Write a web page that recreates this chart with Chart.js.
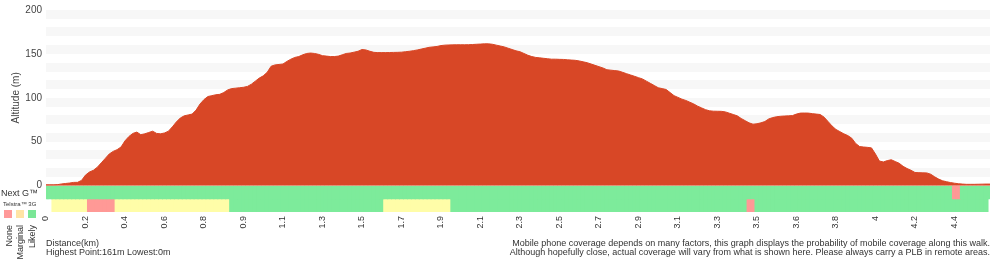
<!DOCTYPE html>
<html>
<head>
<meta charset="utf-8">
<script src="https://cdn.jsdelivr.net/npm/chart.js@4.4.1/dist/chart.umd.min.js"></script>
<style>
body { margin: 0; background: #fff; font-family: "Liberation Sans", Arial, sans-serif; color: #333; }
#wrap { position: relative; width: 1000px; height: 260px; overflow: hidden; }
#wrap canvas { position: absolute; left: 0; top: 0; }
.txt { position: absolute; font-size: 9px; line-height: 9px; white-space: nowrap; }
.sq { position: absolute; width: 8px; height: 8px; top: 210px; }
.vlab { position: absolute; top: 225px; font-size: 9px; line-height: 9px; writing-mode: vertical-rl; transform: rotate(180deg); white-space: nowrap; }
</style>
</head>
<body>
<div id="wrap">
  <canvas id="profile" width="1000" height="260"></canvas>
  <div class="txt" style="left:1px; top:189px;">Next G™</div>
  <div class="txt" style="left:3px; top:201px; font-size:6px; line-height:6px;">Telstra™ 3G</div>
  <div class="sq" style="left:4px; background:rgb(255,153,153);"></div>
  <div class="sq" style="left:16px; background:rgb(255,228,165);"></div>
  <div class="sq" style="left:28px; background:rgb(122,230,150);"></div>
  <div class="vlab" style="left:5px;">None</div>
  <div class="vlab" style="left:16px;">Marginal</div>
  <div class="vlab" style="left:28px;">Likely</div>
  <div class="txt" style="left:46px; top:239px;">Distance(km)</div>
  <div class="txt" style="left:46px; top:248px;">Highest Point:161m Lowest:0m</div>
  <div class="txt" style="right:10px; top:239px; text-align:right;">Mobile phone coverage depends on many factors, this graph displays the probability of mobile coverage along this walk.</div>
  <div class="txt" style="right:10px; top:248px; text-align:right;">Although hopefully close, actual coverage will vary from what is shown here. Please always carry a PLB in remote areas.</div>
</div>
<script>
// distance labels, one every 10 samples
var tickLabels = ['0','0.2','0.4','0.6','0.8','0.9','1.1','1.3','1.5','1.7','1.9','2.1','2.3','2.5','2.7','2.9','3.1','3.3','3.5','3.6','3.8','4','4.2','4.4'];
var pointsPerTick = 10;

// altitude in metres, one value per sample
var altitude = [
  1,1,1,1.2,2,2.5,3,3.7,3.8,6,
  12,15.5,17.5,21,26,31,36,39,41,44,
  51,56,59.5,61,58,59,60.5,62,59.5,59,
  60,62,67,72.5,77,79.5,80.5,81.5,86,93,
  98,101.5,102.5,103.5,104,106,109,110.5,111,111.5,
  112,113,115.5,119,122.5,125,129,136,137.5,138,
  138.5,141.5,144,146,147,149,150.5,151,150.5,149.5,
  148,147.5,147,147,147.5,149,150.5,151,152,153,
  155,154.5,153,151.8,151.5,151.5,151.5,151.6,151.7,151.8,
  152,152.5,153,153.7,154.5,155.5,156.5,157.5,158,158.5,
  159.5,160,160.2,160.3,160.4,160.4,160.4,160.5,160.7,161,
  161.2,161.5,161.5,161,160,159,158,156.5,155,153.5,
  152.5,150.5,148.5,147,146,145.5,145,144.5,144,144,
  143.8,143.7,143.3,143,142.7,142,141,140,138.5,137,
  135.5,134,132,131.5,131,130.5,129,127.5,126,124.5,
  123,121.5,119,116.5,114,111.5,110.5,109.5,106,102.5,
  100.5,98.5,97,95,93,90.5,88.5,86.5,85.2,84.8,
  84.7,84.6,84,82.5,81,79.5,76.5,74,71.5,70,
  70.5,71.5,73,76,77.5,78.5,79,79.3,79.5,79.8,
  81.5,82.6,82.7,82.6,82,81.5,81,78,73,68,
  64,61.5,59,57,54,48,44.5,44,43.6,43,
  36,28,27,28.5,29.5,27.5,25.5,22,19.5,17.5,
  15,14.8,14.6,14.5,13,10,7.5,5.5,4.5,3.5,
  2.8,2.2,1.8,1.5,1.5,1.5,1.6,1.7,1.8,1.8
];

// coverage runs: [first sample, last sample, level]
var nextGRuns = [[0,229,'likely'],[230,231,'none'],[232,239,'likely']];
var telstra3GRuns = [[2,10,'marginal'],[11,17,'none'],[18,46,'marginal'],[47,85,'likely'],[86,102,'marginal'],[103,177,'likely'],[178,179,'none'],[180,238,'likely']];

var coverageColours = {
    none: 'rgb(255,153,150)',
    marginal: 'rgb(255,253,168)',
    likely: 'rgb(125,235,155)'
};

var labels = altitude.map(function(v, i){
    return (i % pointsPerTick === 0) ? tickLabels[i / pointsPerTick] : '';
});

function buildRow(runs, low, high){
    var data = altitude.map(function(){ return null; });
    var colours = altitude.map(function(){ return 'rgba(0,0,0,0)'; });
    runs.forEach(function(run){
        for (let i = run[0]; i <= run[1]; i++) {
            data[i] = [low, high];
            colours[i] = coverageColours[run[2]];
        }
    });
    return { data: data, colours: colours };
}

var nextGRow = buildRow(nextGRuns, 1, 2);
var threeGRow = buildRow(telstra3GRuns, 0, 1);

var fontFamily = '"Liberation Sans", Arial, sans-serif';

new Chart('profile', {
    data: {
        labels: labels,
        datasets: [{
            type: 'line',
            label: 'Altitude',
            data: altitude,
            yAxisID: 'y',
            fill: 'origin',
            backgroundColor: 'rgb(216,71,38)',
            borderColor: 'rgb(216,71,38)',
            borderWidth: 1,
            pointRadius: 0,
            tension: 0
        }, {
            type: 'bar',
            label: 'Next G',
            data: nextGRow.data,
            yAxisID: 'y2',
            backgroundColor: nextGRow.colours,
            borderWidth: 0,
            barPercentage: 1,
            categoryPercentage: 1,
            grouped: false,
            inflateAmount: 0.5
        }, {
            type: 'bar',
            label: 'Telstra 3G',
            data: threeGRow.data,
            yAxisID: 'y2',
            backgroundColor: threeGRow.colours,
            borderWidth: 0,
            barPercentage: 1,
            categoryPercentage: 1,
            grouped: false,
            inflateAmount: 0.5
        }]
    },
    options: {
        responsive: false,
        animation: false,
        devicePixelRatio: 1,
        layout: { padding: { top: 5, right: 10, bottom: 28, left: 0 } },
        plugins: { legend: { display: false }, tooltip: { enabled: false } },
        scales: {
            x: {
                type: 'category',
                offset: false,
                grid: { display: false, drawTicks: false, offset: false },
                border: { display: false },
                ticks: {
                    autoSkip: false,
                    minRotation: 90,
                    maxRotation: 90,
                    padding: 4,
                    color: '#333',
                    font: { family: fontFamily, size: 9 }
                },
                afterFit: function(scale){
                    scale.height = 20;
                    scale.paddingLeft = 0;
                    scale.paddingRight = 0;
                }
            },
            // coverage rows sit under the profile; first in the stack is drawn lowest
            y2: {
                stack: 'profile',
                stackWeight: 27,
                position: 'left',
                min: 0,
                max: 2,
                border: { display: false },
                grid: { display: false },
                ticks: { display: false },
                afterFit: function(scale){ scale.width = 46; }
            },
            y: {
                stack: 'profile',
                stackWeight: 180,
                position: 'left',
                min: 0,
                max: 200,
                border: { display: false },
                grid: {
                    drawTicks: false,
                    lineWidth: 9,
                    color: function(ctx){
                        return (ctx.tick && ctx.tick.value % 20 === 15) ? '#f7f7f7' : 'rgba(0,0,0,0)';
                    }
                },
                ticks: {
                    stepSize: 5,
                    autoSkip: false,
                    padding: 4,
                    color: '#444',
                    font: { family: fontFamily, size: 10 },
                    callback: function(v){ return (v % 50 === 0) ? String(v) : ''; }
                },
                title: {
                    display: true,
                    text: 'Altitude (m)',
                    color: '#444',
                    font: { family: fontFamily, size: 10 },
                    padding: { top: 10, bottom: 0 }
                },
                afterFit: function(scale){ scale.width = 46; }
            }
        }
    }
});
</script>
</body>
</html>
